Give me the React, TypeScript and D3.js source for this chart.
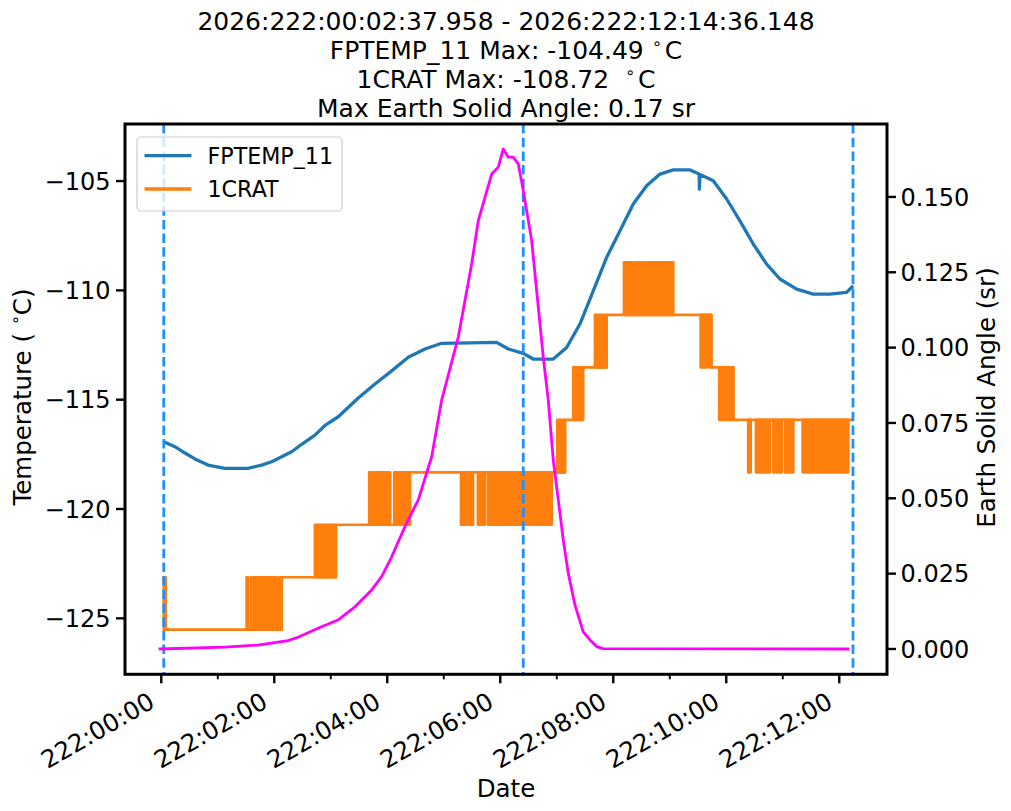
import React from 'react'
import * as d3 from 'd3'

// hours after 222:00:00
const hourTicks = [0, 2, 4, 6, 8, 10, 12]
const hourMinorTicks = [1, 3, 5, 7, 9, 11]
const tempTicks = [-125, -120, -115, -110, -105]
const angleTicks = [0, 0.025, 0.05, 0.075, 0.1, 0.125, 0.15]
const markerHours = [0.044, 6.407, 12.243]

const titleLines = [
  '2026:222:00:02:37.958 - 2026:222:12:14:36.148',
  'FPTEMP_11 Max: -104.49 ',
  '1CRAT Max: -108.72  ',
  'Max Earth Solid Angle: 0.17 sr',
]

// FPTEMP_11 [hour, degC]
const fptemp: [number, number][] = [
  [0.044, -116.92], [0.242, -117.15], [0.419, -117.44], [0.596, -117.71], [0.827, -117.99],
  [1.127, -118.14], [1.535, -118.14], [1.777, -117.99], [1.954, -117.84], [2.131, -117.61],
  [2.308, -117.38], [2.485, -117.04], [2.72, -116.62], [2.897, -116.18], [3.133, -115.78],
  [3.487, -114.92], [3.782, -114.28], [4.078, -113.68], [4.372, -113.06], [4.667, -112.68],
  [4.963, -112.42], [5.936, -112.38], [6.142, -112.68], [6.407, -112.88], [6.584, -113.14],
  [6.938, -113.14], [7.175, -112.61], [7.41, -111.54], [7.646, -110.02], [7.883, -108.49],
  [8.119, -107.27], [8.354, -106.05], [8.591, -105.21], [8.827, -104.68], [9.062, -104.49],
  [9.358, -104.49], [9.52, -104.68], [9.525, -105.37], [9.535, -104.7], [9.77, -104.99],
  [10.007, -105.82], [10.242, -106.82], [10.478, -107.88], [10.715, -108.8], [10.95, -109.48],
  [11.246, -109.94], [11.54, -110.17], [11.835, -110.17], [12.131, -110.09], [12.243, -109.79],
]

// 1CRAT steady level, step-after [hour, degC]
const cratSteps: [number, number][] = [
  [0.044, -125.52], [2.131, -123.12], [3.09, -120.72], [4.4, -118.32], [7.145, -115.92],
  [7.464, -113.52], [7.883, -111.12], [9.735, -113.52], [10.124, -115.92], [12.243, -115.92],
]

// 1CRAT toggling bursts [start hour, end hour, low, high]
const cratBursts: [number, number, number, number][] = [
  [0.044, 0.078, -125.52, -123.12],
  [1.511, 1.54, -125.52, -123.12], [1.59, 2.042, -125.52, -123.12], [2.083, 2.131, -125.52, -123.12],
  [2.72, 2.87, -123.12, -120.72], [2.9, 3.09, -123.12, -120.72],
  [3.68, 3.84, -120.72, -118.32], [3.87, 4.05, -120.72, -118.32], [4.124, 4.195, -120.72, -118.32], [4.225, 4.4, -120.72, -118.32],
  [5.305, 5.428, -120.72, -118.32], [5.464, 5.517, -120.72, -118.32], [5.605, 5.729, -120.72, -118.32],
  [5.782, 6.379, -120.72, -118.32], [6.419, 6.612, -120.72, -118.32], [6.648, 6.91, -120.72, -118.32],
  [7.009, 7.145, -118.32, -115.92],
  [7.292, 7.464, -115.92, -113.52],
  [7.676, 7.83, -113.52, -111.12], [7.86, 7.883, -113.52, -111.12],
  [8.19, 8.326, -111.12, -108.72], [8.366, 8.503, -111.12, -108.72], [8.521, 9.062, -111.12, -108.72],
  [9.547, 9.66, -113.52, -111.12], [9.7, 9.735, -113.52, -111.12],
  [9.876, 9.977, -115.92, -113.52], [10.009, 10.124, -115.92, -113.52],
  [10.389, 10.432, -118.32, -115.92], [10.526, 10.773, -118.32, -115.92], [10.832, 10.981, -118.32, -115.92],
  [11.039, 11.186, -118.32, -115.92], [11.352, 11.924, -118.32, -115.92], [11.954, 12.159, -118.32, -115.92],
]

// Earth solid angle [hour, sr]
const earthAngle: [number, number][] = [
  [-0.046, 0], [1.127, 0.0006], [1.711, 0.0013], [2.242, 0.0028], [2.42, 0.0039],
  [2.774, 0.0069], [3.127, 0.0096], [3.428, 0.014], [3.724, 0.0196], [3.9, 0.024],
  [4.078, 0.0306], [4.313, 0.0406], [4.549, 0.0495], [4.786, 0.0638], [4.963, 0.0826],
  [5.257, 0.1035], [5.494, 0.1278], [5.611, 0.1421], [5.848, 0.1576], [5.965, 0.1599],
  [6.053, 0.1659], [6.142, 0.1632], [6.23, 0.1632], [6.319, 0.161], [6.407, 0.1521],
  [6.556, 0.1355], [6.644, 0.1189], [6.761, 0.0968], [6.85, 0.0826], [6.938, 0.0627],
  [7.027, 0.0495], [7.115, 0.0362], [7.204, 0.0251], [7.322, 0.0146], [7.469, 0.0057],
  [7.588, 0.003], [7.706, 0.0008], [7.823, 0.0001], [12.177, 0],
]

const FONT = 'DejaVu Sans'
const BLUE = '#1f77b4'
const ORANGE = '#ff7f0e'
const MAGENTA = '#ff00ff'
const VLINE = '#1e90ff'

export default function App() {
  const left = 125
  const right = 887
  const top = 124
  const bottom = 674.3

  const x = d3.scaleLinear().domain([-0.642, 12.845]).range([left, right])
  const yT = d3.scaleLinear().domain([-127.56, -102.39]).range([bottom, top])
  const yS = d3.scaleLinear().domain([-0.0084, 0.1742]).range([bottom, top])

  const tempLine = d3.line<[number, number]>().x((d) => x(d[0])).y((d) => yT(d[1]))
  const stepLine = d3
    .line<[number, number]>()
    .x((d) => x(d[0]))
    .y((d) => yT(d[1]))
    .curve(d3.curveStepAfter)
  const angleLine = d3.line<[number, number]>().x((d) => x(d[0])).y((d) => yS(d[1]))

  const fmtTemp = (v: number) => (v < 0 ? '\u2212' + Math.abs(v) : String(v))
  const fmtHour = (h: number) => `222:${String(h).padStart(2, '0')}:00`
  const cx = (left + right) / 2

  return (
    <svg
      width={1011}
      height={811}
      style={{ position: 'absolute', left: 0, top: 0, background: '#fff' }}
      fontFamily={FONT}
    >
      <rect x={0} y={0} width={1011} height={811} fill="#fff" />

      {/* title */}
      <text textAnchor="middle" fontSize={25} fill="#000" style={{ whiteSpace: 'pre' }}>
        <tspan x={cx} y={29.5}>{titleLines[0]}</tspan>
        <tspan x={cx} y={58.5}>
          {titleLines[1]}
          <tspan fontSize={16} dy={-10}>{'\u2218'}</tspan>
          <tspan dy={10} dx={3}>C</tspan>
        </tspan>
        <tspan x={cx} y={87.5}>
          {titleLines[2]}
          <tspan fontSize={16} dy={-10}>{'\u2218'}</tspan>
          <tspan dy={10} dx={3}>C</tspan>
        </tspan>
        <tspan x={cx} y={116.5}>{titleLines[3]}</tspan>
      </text>

      {/* data */}
      <g fill="none" strokeLinejoin="round">
        <path d={tempLine(fptemp) || ''} stroke={BLUE} strokeWidth={3.3} />
        <path d={stepLine(cratSteps) || ''} stroke={ORANGE} strokeWidth={2.7} />
        {cratBursts.map((b, i) => (
          <rect
            key={i}
            x={x(b[0])}
            y={yT(b[3])}
            width={x(b[1]) - x(b[0])}
            height={yT(b[2]) - yT(b[3])}
            fill={ORANGE}
            stroke={ORANGE}
            strokeWidth={2.7}
          />
        ))}
        {markerHours.map((h) => (
          <line
            key={h}
            x1={x(h)}
            x2={x(h)}
            y1={top}
            y2={bottom}
            stroke={VLINE}
            strokeWidth={2.8}
            strokeDasharray="9.5,4.2"
          />
        ))}
        <path d={angleLine(earthAngle) || ''} stroke={MAGENTA} strokeWidth={2.8} />
      </g>

      {/* legend */}
      <g>
        <rect x={137} y={137} width={205} height={74} rx={4} fill="#fff" fillOpacity={0.8} stroke="#cccccc" strokeWidth={1.2} />
        <line x1={144.5} x2={191.5} y1={155.7} y2={155.7} stroke={BLUE} strokeWidth={3.3} />
        <line x1={144.5} x2={191.5} y1={189} y2={189} stroke={ORANGE} strokeWidth={3.3} />
        <text x={207.5} y={155.7} dy="0.36em" fontSize={22.2}>FPTEMP_11</text>
        <text x={207.5} y={189} dy="0.36em" fontSize={22.2}>1CRAT</text>
      </g>

      {/* frame */}
      <rect x={left} y={top} width={right - left} height={bottom - top} fill="none" stroke="#000" strokeWidth={3} />

      {/* left axis */}
      {tempTicks.map((t) => (
        <g key={t} transform={`translate(0,${yT(t)})`}>
          <line x1={left} x2={left - 9} stroke="#000" strokeWidth={2.4} />
          <text x={left - 14.5} dy="0.36em" textAnchor="end" fontSize={24}>{fmtTemp(t)}</text>
        </g>
      ))}
      {/* right axis */}
      {angleTicks.map((t) => (
        <g key={t} transform={`translate(0,${yS(t)})`}>
          <line x1={right} x2={right + 9} stroke="#000" strokeWidth={2.4} />
          <text x={right + 13.5} dy="0.36em" textAnchor="start" fontSize={24}>{d3.format('.3f')(t)}</text>
        </g>
      ))}
      {/* bottom axis */}
      {hourMinorTicks.map((h) => (
        <line key={h} x1={x(h)} x2={x(h)} y1={bottom} y2={bottom + 5} stroke="#000" strokeWidth={1.9} />
      ))}
      {hourTicks.map((h) => (
        <g key={h}>
          <line x1={x(h)} x2={x(h)} y1={bottom} y2={bottom + 9} stroke="#000" strokeWidth={2.4} />
          <text
            transform={`translate(${x(h) - 5},${706.5}) rotate(-30)`}
            textAnchor="end"
            fontSize={24.5}
          >
            {fmtHour(h)}
          </text>
        </g>
      ))}

      {/* axis labels */}
      <text x={cx} y={796.5} textAnchor="middle" fontSize={24.5}>Date</text>
      <text transform={`translate(31,397) rotate(-90)`} textAnchor="middle" fontSize={24.5} style={{ whiteSpace: 'pre' }}>
        {'Temperature ( '}
        <tspan fontSize={16} dy={-10}>{'\u2218'}</tspan>
        <tspan dy={10}>C)</tspan>
      </text>
      <text transform={`translate(995,397.5) rotate(-90)`} textAnchor="middle" fontSize={24.5}>
        Earth Solid Angle (sr)
      </text>
    </svg>
  )
}
